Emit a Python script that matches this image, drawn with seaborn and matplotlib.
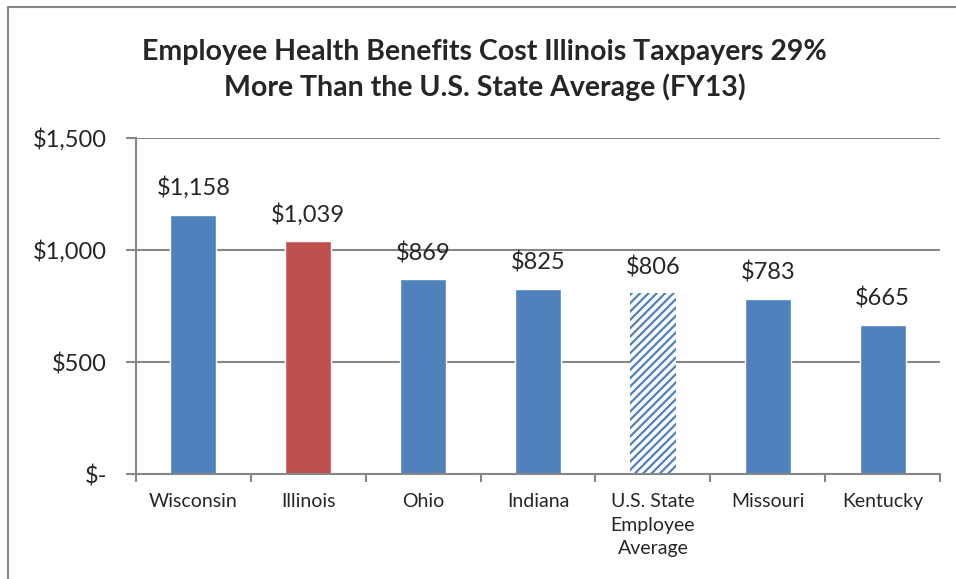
import matplotlib
matplotlib.use("Agg")
import matplotlib.pyplot as plt
import seaborn as sns
import pandas as pd
from matplotlib.lines import Line2D

sns.set_style("white")
plt.rcParams["font.family"] = ["Lato", "DejaVu Sans"]
plt.rcParams["hatch.linewidth"] = 1.6

# Data
states = ["Wisconsin", "Illinois", "Ohio", "Indiana",
          "U.S. State\nEmployee\nAverage", "Missouri", "Kentucky"]
cost = [1158, 1039, 869, 825, 806, 783, 665]
bar_colors = ["#4F81BD", "#C0504D", "#4F81BD", "#4F81BD",
              "#4F81BD", "#4F81BD", "#4F81BD"]
ytick_vals = [0, 500, 1000, 1500]
ytick_labels = ["$-", "$500", "$1,000", "$1,500"]

df = pd.DataFrame({"state": states, "cost": cost})

fig = plt.figure(figsize=(9.56, 5.79), dpi=100)
ax = fig.add_axes([0.1423, 0.1813, 0.841, 0.5804])

sns.barplot(data=df, x="state", y="cost", hue="state", palette=bar_colors,
            width=0.4, saturation=1, legend=False, ax=ax)

# hatched average bar
avg = ax.patches[4]
avg.set_facecolor("white")
avg.set_edgecolor("#4F81BD")
avg.set_hatch("////")
avg.set_linewidth(0)

for cont in ax.containers:
    ax.bar_label(cont, labels=[f"${v:,.0f}" for v in cont.datavalues],
                 padding=11, fontsize=17)

ax.set_ylim(0, 1500)
ax.set_xlim(-0.5, 6.5)
ax.set_yticks(ytick_vals)
ax.set_yticklabels(ytick_labels, fontsize=17)
ax.set_xticks(range(len(states)))
ax.set_xticklabels(states, fontsize=14)
for t in ax.get_xticklabels():
    t.set_linespacing(1.45)
ax.set_xticks([i - 0.5 for i in range(len(states) + 1)], minor=True)
ax.tick_params(axis="x", which="major", length=0, pad=14)
ax.tick_params(axis="x", which="minor", length=6, width=1.5, color="#868686", bottom=True, direction="out")
ax.tick_params(axis="y", length=7, width=1.5, color="#868686", left=True, direction="out", pad=14)
ax.set_xlabel("")
ax.set_ylabel("")

ax.yaxis.grid(True, color="#868686", linewidth=1.5)
ax.set_axisbelow(True)
for s in ["top", "right"]:
    ax.spines[s].set_visible(False)
for s in ["left", "bottom"]:
    ax.spines[s].set_color("#868686")
    ax.spines[s].set_linewidth(1.5)

fig.text(0.507, 0.879, "Employee Health Benefits Cost Illinois Taxpayers 29%\nMore Than the U.S. State Average (FY13)",
         ha="center", va="center", fontsize=20.5, fontweight="bold", linespacing=1.4)

# outer chart border (left and top edges visible)
fig.add_artist(Line2D([8 / 956, 8 / 956], [0, 1 - 7 / 579], color="#868686", lw=1.5))
fig.add_artist(Line2D([8 / 956, 1], [1 - 7 / 579, 1 - 7 / 579], color="#868686", lw=1.5))

fig.savefig("out.png", dpi=100)
